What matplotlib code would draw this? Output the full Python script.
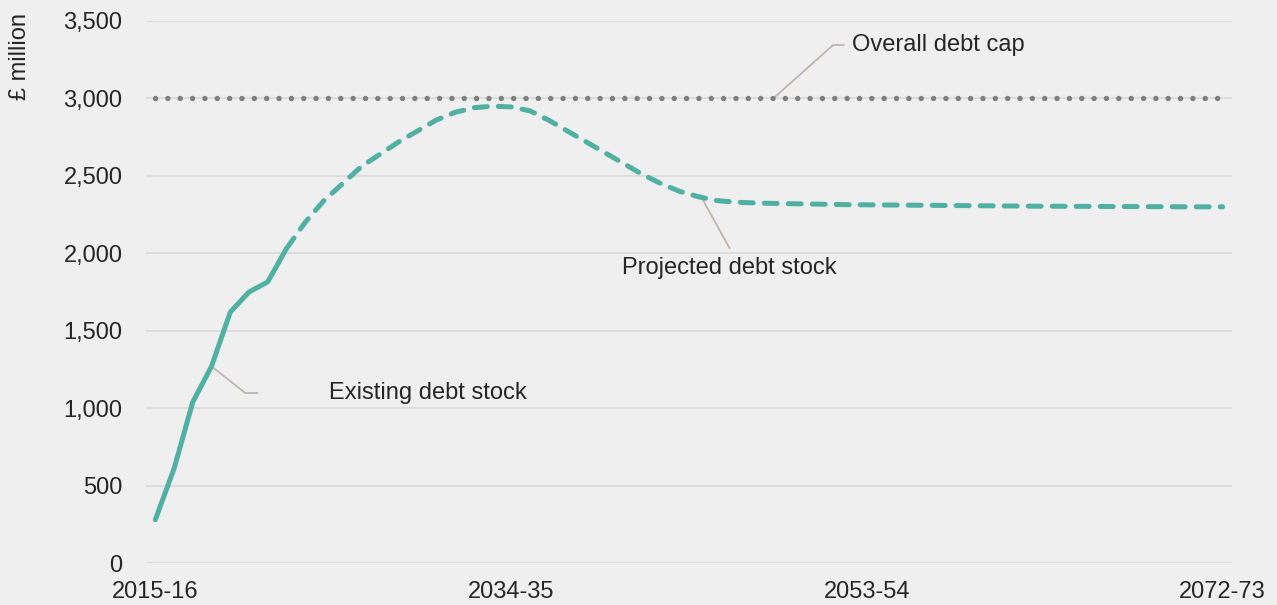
import matplotlib
matplotlib.use('Agg')
import matplotlib.pyplot as plt

years = ['%d-%02d' % (y, (y + 1) % 100) for y in range(2015, 2073)]
tickLabels = ['2015-16', '2034-35', '2053-54', '2072-73']

existingDebt = [280, 610, 1040, 1270, 1620, 1750, 1815, 2030]

projectedDebt = [2030, 2200, 2340, 2450, 2560, 2640, 2720, 2790, 2860, 2910,
                 2940, 2950, 2945, 2920, 2860, 2790, 2720, 2650, 2580, 2510,
                 2450, 2400, 2365, 2340, 2330, 2325, 2322, 2320, 2318, 2316,
                 2314, 2313, 2312, 2311, 2310, 2309, 2308, 2307, 2306, 2305,
                 2304, 2304, 2303, 2303, 2302, 2302, 2301, 2301, 2300, 2300,
                 2300]

debtCap = [3000] * 58

TEAL = '#50b1a3'
GREY = '#7f7f7f'
LEADER = '#bdb6ae'
TEXT = '#262626'
BG = '#efefef'
FS = 17

def annotate(ax, label, points, textPos, ha):
  xs = [p[0] for p in points]
  ys = [p[1] for p in points]
  ax.plot(xs, ys, color=LEADER, lw=1.3, zorder=2)
  ax.text(textPos[0], textPos[1], label, ha=ha, va='center', fontsize=FS, color=TEXT)

def main():
  plt.rcParams['font.family'] = ['Liberation Sans', 'DejaVu Sans']
  fig = plt.figure(figsize=(12.77, 6.05), dpi=100, facecolor=BG)
  ax = fig.add_axes([146 / 1277, 1 - 563 / 605, (1232 - 146) / 1277, (563 - 21) / 605])
  ax.set_facecolor(BG)

  x = list(range(len(years)))
  ax.plot(x[:len(existingDebt)], existingDebt, color=TEAL, lw=3.6,
          solid_capstyle='round', solid_joinstyle='round', zorder=4)
  ax.plot(x[len(existingDebt) - 1:], projectedDebt, color=TEAL, lw=3.6,
          linestyle=(0, (2.6, 2.2)), dash_capstyle='round', zorder=4)
  ax.plot(x[:len(debtCap)], debtCap, color=GREY, lw=3.9,
          linestyle=(0, (0.01, 2.27)), dash_capstyle='round', zorder=3)

  annotate(ax, 'Overall debt cap', [(33.0, 3000), (36.2, 3345), (36.75, 3345)], (37.2, 3345), 'left')
  annotate(ax, 'Projected debt stock', [(29.1, 2376), (30.66, 2034)], (30.66, 1905), 'center')
  annotate(ax, 'Existing debt stock', [(3.04, 1266), (4.8, 1098), (5.45, 1098)], (9.25, 1098), 'left')

  ax.set_xlim(-0.5, 57.5)
  ax.set_ylim(0, 3500)
  ax.set_yticks(range(0, 3501, 500))
  ax.set_yticklabels(['{:,}'.format(v) for v in range(0, 3501, 500)])
  ax.set_xticks([years.index(t) for t in tickLabels])
  ax.set_xticklabels(tickLabels)
  ax.tick_params(axis='both', length=0, labelsize=FS, labelcolor=TEXT)
  ax.tick_params(axis='y', pad=17)
  ax.tick_params(axis='x', pad=13)
  ax.grid(axis='y', color='#d9d9d9', lw=1.2, zorder=0)
  ax.set_axisbelow(True)
  for s in ax.spines.values():
    s.set_visible(False)

  fig.text(20 / 1277, 1 - 57 / 605, '£ million', rotation=90, ha='center', va='center',
           fontsize=FS, color=TEXT)

  fig.savefig('out.png', dpi=100, facecolor=BG)

if __name__ == "__main__":
  main()
